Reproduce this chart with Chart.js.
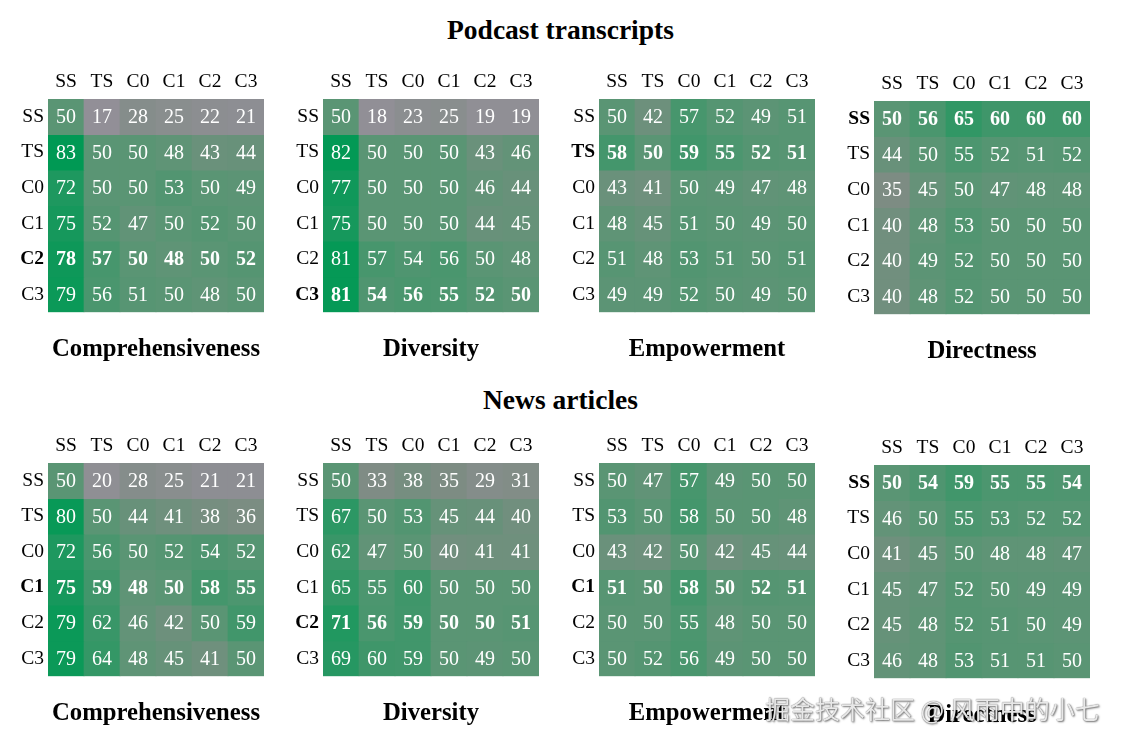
<!DOCTYPE html>
<html>
<head>
<meta charset="utf-8">
<script src="https://cdn.jsdelivr.net/npm/chart.js@4"></script>
<style>
  body { margin: 0; background: #fff; width: 1121px; height: 743px; position: relative; overflow: hidden; }
  .panel { position: absolute; }
  .heading { position: absolute; left: 0; width: 1121px; text-align: center;
             font-family: 'Liberation Serif', serif; font-weight: bold; font-size: 27.5px; line-height: 30px; }
  .mark { position: absolute; left: 765px; top: 690px; font-family: 'Noto Sans CJK SC', sans-serif;
          font-size: 25px; color: rgba(250,250,250,0.9);
          text-shadow: 0 0 1px #444, 1px 1px 2px rgba(0,0,0,0.55); white-space: nowrap; }
</style>
</head>
<body>
<div class="heading" style="top:15px">Podcast transcripts</div>
<div class="heading" style="top:385px">News articles</div>
<div id="panels"></div>
<div class="mark">掘金技术社区 @ 风雨中的小七</div>
<script>
const rowLabels = ['SS', 'TS', 'C0', 'C1', 'C2', 'C3'];
const colLabels = ['SS', 'TS', 'C0', 'C1', 'C2', 'C3'];
const metrics = ['Comprehensiveness', 'Diversity', 'Empowerment', 'Directness'];

// win rates (%) row vs column
const podcastComprehensiveness = [[50,17,28,25,22,21],[83,50,50,48,43,44],[72,50,50,53,50,49],[75,52,47,50,52,50],[78,57,50,48,50,52],[79,56,51,50,48,50]];
const podcastDiversity = [[50,18,23,25,19,19],[82,50,50,50,43,46],[77,50,50,50,46,44],[75,50,50,50,44,45],[81,57,54,56,50,48],[81,54,56,55,52,50]];
const podcastEmpowerment = [[50,42,57,52,49,51],[58,50,59,55,52,51],[43,41,50,49,47,48],[48,45,51,50,49,50],[51,48,53,51,50,51],[49,49,52,50,49,50]];
const podcastDirectness = [[50,56,65,60,60,60],[44,50,55,52,51,52],[35,45,50,47,48,48],[40,48,53,50,50,50],[40,49,52,50,50,50],[40,48,52,50,50,50]];
const newsComprehensiveness = [[50,20,28,25,21,21],[80,50,44,41,38,36],[72,56,50,52,54,52],[75,59,48,50,58,55],[79,62,46,42,50,59],[79,64,48,45,41,50]];
const newsDiversity = [[50,33,38,35,29,31],[67,50,53,45,44,40],[62,47,50,40,41,41],[65,55,60,50,50,50],[71,56,59,50,50,51],[69,60,59,50,49,50]];
const newsEmpowerment = [[50,47,57,49,50,50],[53,50,58,50,50,48],[43,42,50,42,45,44],[51,50,58,50,52,51],[50,50,55,48,50,50],[50,52,56,49,50,50]];
const newsDirectness = [[50,54,59,55,55,54],[46,50,55,53,52,52],[41,45,50,48,48,47],[45,47,52,50,49,49],[45,48,52,51,50,49],[46,48,53,51,51,50]];

// which row is shown in bold in each panel
const podcastBoldRows = [4, 5, 1, 0];
const newsBoldRows = [3, 4, 3, 0];

const podcastData = [podcastComprehensiveness, podcastDiversity, podcastEmpowerment, podcastDirectness];
const newsData = [newsComprehensiveness, newsDiversity, newsEmpowerment, newsDirectness];

const FONT = "'Liberation Serif', 'Times New Roman', serif";

// gray -> green colour ramp
const colorStops = [
    [17, [146, 143, 151]],
    [35, [125, 140, 131]],
    [50, [90, 149, 116]],
    [83, [0, 153, 84]]
];
function colorFor(v) {
    if (v <= colorStops[0][0]) return `rgb(${colorStops[0][1].join(',')})`;
    for (let i = 1; i < colorStops.length; i++) {
        const [v1, c1] = colorStops[i];
        const [v0, c0] = colorStops[i - 1];
        if (v <= v1) {
            const t = (v - v0) / (v1 - v0);
            const c = c0.map((a, k) => Math.round(a + (c1[k] - a) * t));
            return `rgb(${c.join(',')})`;
        }
    }
    return `rgb(${colorStops[colorStops.length - 1][1].join(',')})`;
}

// draw the numbers inside the cells
const cellText = {
    id: 'cellText',
    afterDatasetsDraw(chart) {
        const ctx = chart.ctx;
        ctx.save();
        ctx.textAlign = 'center';
        ctx.textBaseline = 'middle';
        ctx.fillStyle = '#fff';
        chart.data.datasets.forEach((ds, i) => {
            ctx.font = `${ds.bold ? 'bold ' : ''}20px ${FONT}`;
            chart.getDatasetMeta(i).data.forEach((bar, j) => {
                const { x, y, base } = bar.getProps(['x', 'y', 'base'], true);
                ctx.fillText(ds.values[j], x, (y + base) / 2 + 1);
            });
        });
        ctx.restore();
    }
};

const AXIS_W = 40, AXIS_H = 30, CANVAS_W = 256, CANVAS_H = 297;

function makePanel(values, metric, boldRow, left, top) {
    const wrap = document.createElement('div');
    wrap.className = 'panel';
    wrap.style.left = (left - AXIS_W) + 'px';
    wrap.style.top = (top - AXIS_H) + 'px';
    const canvas = document.createElement('canvas');
    canvas.width = CANVAS_W;
    canvas.height = CANVAS_H;
    wrap.appendChild(canvas);
    document.getElementById('panels').appendChild(wrap);

    new Chart(canvas.getContext('2d'), {
        type: 'bar',
        data: {
            labels: colLabels,
            datasets: values.map((row, i) => ({
                data: colLabels.map(() => [i, i + 1]),
                values: row,
                bold: i === boldRow,
                backgroundColor: row.map(colorFor),
                borderWidth: 0,
                grouped: false,
                barPercentage: 1,
                categoryPercentage: 1
            }))
        },
        options: {
            responsive: false,
            animation: false,
            layout: { padding: 0 },
            scales: {
                x: {
                    position: 'top',
                    grid: { display: false, drawTicks: false },
                    border: { display: false },
                    ticks: { color: '#000', padding: 5, font: { family: FONT, size: 19.5 } },
                    afterFit: axis => { axis.height = AXIS_H; }
                },
                y: {
                    type: 'linear',
                    min: 0,
                    max: 6,
                    reverse: true,
                    grid: { display: false, drawTicks: false },
                    border: { display: false },
                    afterBuildTicks: axis => { axis.ticks = rowLabels.map((_, i) => ({ value: i + 0.5 })); },
                    ticks: {
                        color: '#000',
                        padding: 4,
                        callback: (v, idx) => rowLabels[idx],
                        font: c => ({ family: FONT, size: 19.5, weight: c.index === boldRow ? 'bold' : 'normal' })
                    },
                    afterFit: axis => { axis.width = AXIS_W; }
                }
            },
            plugins: {
                legend: { display: false },
                tooltip: { enabled: false },
                title: {
                    display: true,
                    text: metric,
                    position: 'bottom',
                    fullSize: false,
                    color: '#000',
                    font: { family: FONT, size: 24.7, weight: 'bold' },
                    padding: { top: 22, bottom: 2 }
                }
            }
        },
        plugins: [cellText]
    });
}

const panelLefts = [48, 323, 599, 874];
const topOffsets = [0, 0, 0, 2];
metrics.forEach((m, k) => {
    makePanel(podcastData[k], m, podcastBoldRows[k], panelLefts[k], 99 + topOffsets[k]);
    makePanel(newsData[k], m, newsBoldRows[k], panelLefts[k], 463 + topOffsets[k]);
});
</script>
</body>
</html>
